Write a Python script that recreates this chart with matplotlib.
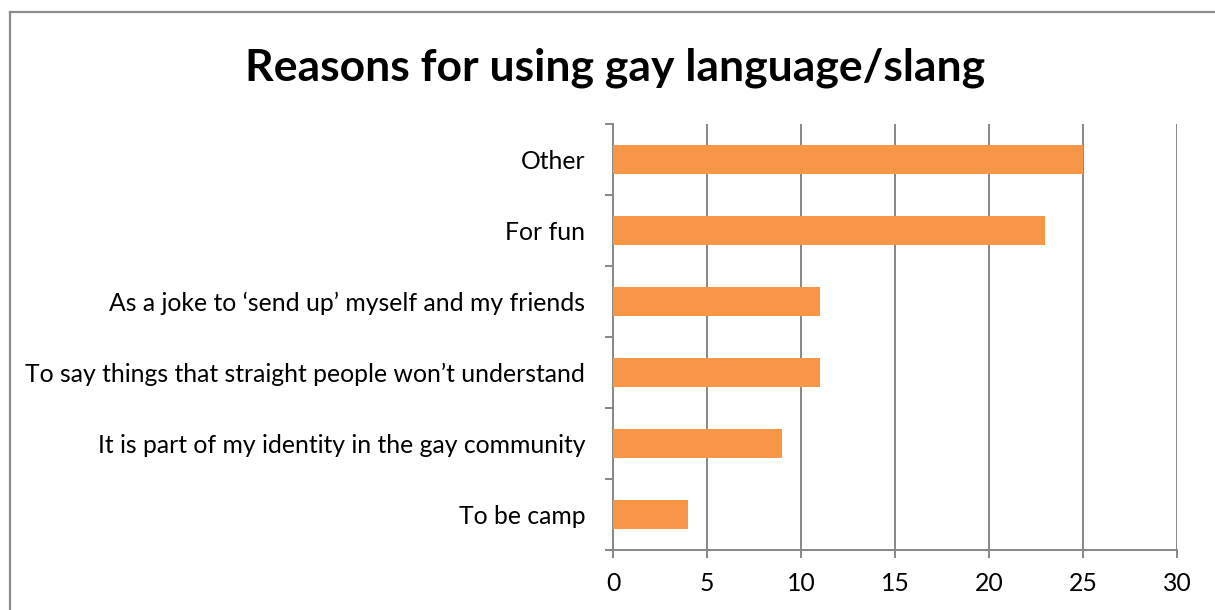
import matplotlib
matplotlib.use("Agg")
import matplotlib.pyplot as plt
from matplotlib.lines import Line2D
import numpy as np

# Survey answers, listed top to bottom as they appear on the chart
reasons = [
    "Other",
    "For fun",
    "As a joke to \u2018send up\u2019 myself and my friends",
    "To say things that straight people won\u2019t understand",
    "It is part of my identity in the gay community",
    "To be camp",
]
counts = [25, 23, 11, 11, 9, 4]
x_ticks = [0, 5, 10, 15, 20, 25, 30]

bar_color = "#F79646"
axis_gray = "#878787"

plt.rcParams["font.family"] = ["Lato", "DejaVu Sans"]

W, H = 1215, 610
fig = plt.figure(figsize=(W / 100, H / 100), dpi=100)
ax = fig.add_axes([613 / W, 1 - 550 / H, (1177 - 613) / W, (550 - 124) / H])

y = np.arange(len(reasons))
ax.barh(y, counts, height=0.4, color=bar_color, zorder=3)

ax.set_xlim(0, 30)
ax.set_ylim(len(reasons) - 0.5, -0.5)

# vertical gridlines
ax.set_xticks(x_ticks)
ax.xaxis.grid(True, color=axis_gray, linewidth=1.4, zorder=1)
ax.set_axisbelow(True)

# category labels centred, tick marks on the category boundaries
ax.set_yticks(y)
ax.set_yticklabels(reasons)
ax.set_yticks(np.arange(len(reasons) + 1) - 0.5, minor=True)
ax.tick_params(axis="y", which="major", length=0, pad=20, labelsize=17.8)
ax.tick_params(axis="y", which="minor", length=5.5, width=1.4, color=axis_gray, direction="out")
ax.tick_params(axis="x", which="major", length=5.5, width=1.4, color=axis_gray,
               direction="out", pad=10, labelsize=17.8)

for side in ("top", "right"):
    ax.spines[side].set_visible(False)
for side in ("left", "bottom"):
    ax.spines[side].set_color(axis_gray)
    ax.spines[side].set_linewidth(1.4)

fig.text(615 / W, 1 - 68 / H, "Reasons for using gay language/slang",
         ha="center", va="center", fontsize=32, fontweight="bold")

# chart area frame (only the left and top edges fall inside the image)
fig.add_artist(Line2D([10 / W, 10 / W], [0, 1 - 12 / H], color="#8c8c8c", linewidth=1.6,
                      transform=fig.transFigure))
fig.add_artist(Line2D([10 / W, 1], [1 - 12 / H, 1 - 12 / H], color="#8c8c8c", linewidth=1.6,
                      transform=fig.transFigure))

fig.savefig("out.png", dpi=100, facecolor="white")
